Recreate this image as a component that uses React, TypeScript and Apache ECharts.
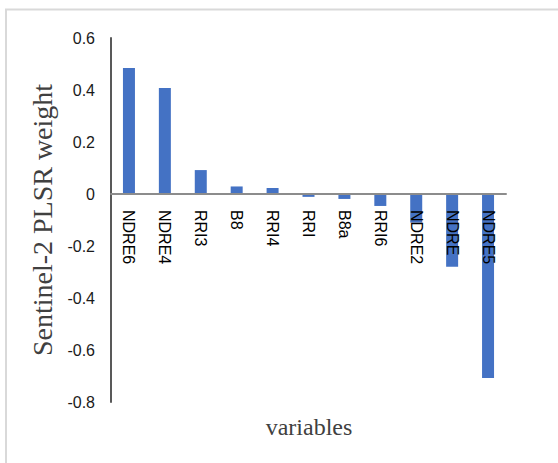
import React, { useEffect, useRef } from "react";
import * as echarts from "echarts";

const categories = ["NDRE6", "NDRE4", "RRI3", "B8", "RRI4", "RRI", "B8a", "RRI6", "NDRE2", "NDRE", "NDRE5"];
const weights = [0.485, 0.408, 0.092, 0.029, 0.023, -0.011, -0.019, -0.046, -0.11, -0.28, -0.708];
const yTicks = { min: -0.8, max: 0.6, interval: 0.2 };
const yTitle = "Sentinel-2 PLSR weight";
const xTitle = "variables";

export default function App() {
  const ref = useRef<HTMLDivElement>(null);
  useEffect(() => {
    if (!ref.current) return;
    const chart = echarts.init(ref.current, null, { renderer: "svg" });
    const gridTop = 38;
    const gridHeight = 364;
    const zeroOffset = -gridHeight * (0 - yTicks.min) / (yTicks.max - yTicks.min);
    chart.setOption({
      animation: false,
      backgroundColor: "#ffffff",
      grid: { left: 111, top: gridTop, width: 395, height: gridHeight, containLabel: false },
      xAxis: {
        type: "category",
        data: categories,
        z: 10,
        offset: zeroOffset,
        axisLine: { onZero: false, lineStyle: { color: "#8c8c8c", width: 2 } },
        axisTick: { show: false },
        axisLabel: {
          rotate: -90,
          margin: 16,
          interval: 0,
          color: "#000000",
          fontFamily: "Liberation Sans",
          fontSize: 16,
        },
        splitLine: { show: false },
      },
      yAxis: {
        type: "value",
        min: yTicks.min,
        max: yTicks.max,
        interval: yTicks.interval,
        name: yTitle,
        nameLocation: "middle",
        nameGap: 44,
        nameRotate: 90,
        nameTextStyle: { fontFamily: "Liberation Serif", fontSize: 28, color: "#404040" },
        axisLine: { show: true, onZero: false, lineStyle: { color: "#595959", width: 2 } },
        axisTick: { show: false },
        splitLine: { show: false },
        axisLabel: {
          margin: 16,
          color: "#1a1a1a",
          fontFamily: "Liberation Sans",
          fontSize: 16,
          formatter: (v: number) => String(Math.round(v * 10) / 10),
        },
      },
      graphic: [
        {
          type: "rect",
          shape: { x: 6, y: 9.5, width: 600, height: 500 },
          style: { fill: "none", stroke: "#d9d9d9", lineWidth: 2 },
          silent: true,
        },
        {
          type: "text",
          x: 309,
          y: 427,
          style: {
            text: xTitle,
            fontFamily: "Liberation Serif",
            fontSize: 24,
            fill: "#404040",
            textAlign: "center",
            textVerticalAlign: "middle",
          },
        },
      ],
      series: [
        {
          type: "bar",
          data: weights,
          barWidth: 12,
          itemStyle: { color: "#4472C4" },
        },
      ],
    });
    return () => chart.dispose();
  }, []);
  return (
    <div
      ref={ref}
      style={{ position: "absolute", left: 0, top: 0, width: 558, height: 463 }}
    />
  );
}
